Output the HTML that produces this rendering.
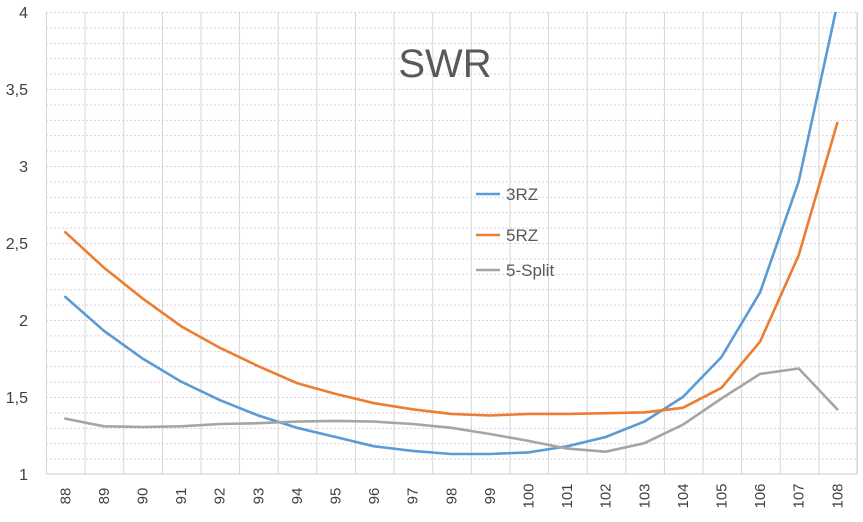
<!DOCTYPE html>
<html><head><style>
body{margin:0;background:#fff;}
svg{display:block;font-family:"Liberation Sans",sans-serif;}
</style></head><body>
<svg width="863" height="522" viewBox="0 0 863 522">
<defs>
<clipPath id="c"><rect x="46" y="12" width="812" height="462"/></clipPath>
<pattern id="hp" x="46" y="12" width="812" height="15.4" patternUnits="userSpaceOnUse">
<line x1="0" x2="812" y1="0.5" y2="0.5" stroke="#dccfe2" stroke-width="1" stroke-dasharray="2,2"/>
</pattern>
<pattern id="vp" x="46" y="0" width="38.62" height="522" patternUnits="userSpaceOnUse">
<line x1="0.5" x2="0.5" y1="0" y2="522" stroke="#d0d8d0" stroke-width="1"/>
</pattern>
</defs>
<rect x="46" y="12" width="812" height="462" fill="url(#hp)"/>
<rect x="46" y="12" width="812" height="462" fill="url(#vp)"/>
<line x1="857" x2="857" y1="12" y2="474" stroke="#d0d8d0"/>
<line x1="46" x2="857" y1="474" y2="474" stroke="#ccc"/>
<g font-size="16" fill="#404040" text-anchor="end">
<text x="28" y="480">1</text>
<text x="28" y="403">1,5</text>
<text x="28" y="326">2</text>
<text x="28" y="249">2,5</text>
<text x="28" y="172">3</text>
<text x="28" y="95">3,5</text>
<text x="28" y="18">4</text>
</g>
<g font-size="15" fill="#404040" text-anchor="middle">
<text transform="translate(70.3,496) rotate(-90)">88</text>
<text transform="translate(108.9,496) rotate(-90)">89</text>
<text transform="translate(147.5,496) rotate(-90)">90</text>
<text transform="translate(186.1,496) rotate(-90)">91</text>
<text transform="translate(224.7,496) rotate(-90)">92</text>
<text transform="translate(263.3,496) rotate(-90)">93</text>
<text transform="translate(301.9,496) rotate(-90)">94</text>
<text transform="translate(340.5,496) rotate(-90)">95</text>
<text transform="translate(379.1,496) rotate(-90)">96</text>
<text transform="translate(417.7,496) rotate(-90)">97</text>
<text transform="translate(456.3,496) rotate(-90)">98</text>
<text transform="translate(494.9,496) rotate(-90)">99</text>
<text transform="translate(533.5,496) rotate(-90)">100</text>
<text transform="translate(572.1,496) rotate(-90)">101</text>
<text transform="translate(610.7,496) rotate(-90)">102</text>
<text transform="translate(649.3,496) rotate(-90)">103</text>
<text transform="translate(687.9,496) rotate(-90)">104</text>
<text transform="translate(726.5,496) rotate(-90)">105</text>
<text transform="translate(765.1,496) rotate(-90)">106</text>
<text transform="translate(803.7,496) rotate(-90)">107</text>
<text transform="translate(842.3,496) rotate(-90)">108</text>
</g>
<g clip-path="url(#c)" fill="none" stroke-width="2.6" stroke-linejoin="round" stroke-linecap="round">
<polyline stroke="#5b9bd5" points="65.3,296.9 103.9,330.8 142.5,358.5 181.1,381.6 219.7,400.1 258.3,415.5 296.9,427.8 335.5,437 374.1,446.3 412.7,450.9 451.3,454 489.9,454 528.5,452.4 567.1,446.3 605.7,437 644.3,421.6 682.9,397 721.5,357 760.1,292.3 798.7,181.4 837.3,4.3"/>
<polyline stroke="#ed7d31" points="65.3,232.2 103.9,267.6 142.5,298.4 181.1,326.2 219.7,347.7 258.3,366.2 296.9,383.1 335.5,393.9 374.1,403.2 412.7,409.3 451.3,413.9 489.9,415.5 528.5,413.9 567.1,413.9 605.7,413.2 644.3,412.4 682.9,407.8 721.5,387.8 760.1,341.6 798.7,255.3 837.3,122.9"/>
<polyline stroke="#a5a5a5" points="65.3,418.6 103.9,426.3 142.5,427 181.1,426.3 219.7,424 258.3,423.2 296.9,421.6 335.5,420.9 374.1,421.6 412.7,424 451.3,427.8 489.9,434 528.5,440.9 567.1,448.6 605.7,451.7 644.3,443.2 682.9,424.7 721.5,398.5 760.1,373.9 798.7,368.5 837.3,409.3"/>
</g>
<text x="445" y="77" text-anchor="middle" font-size="40" fill="#595959">SWR</text>
<line x1="476" x2="500" y1="194" y2="194" stroke="#5b9bd5" stroke-width="2.6"/>
<text x="506" y="200" font-size="17" fill="#595959">3RZ</text>
<line x1="476" x2="500" y1="235" y2="235" stroke="#ed7d31" stroke-width="2.6"/>
<text x="506" y="241" font-size="17" fill="#595959">5RZ</text>
<line x1="476" x2="500" y1="270" y2="270" stroke="#a5a5a5" stroke-width="2.6"/>
<text x="506" y="276" font-size="17" fill="#595959">5-Split</text>
</svg>
</body></html>
